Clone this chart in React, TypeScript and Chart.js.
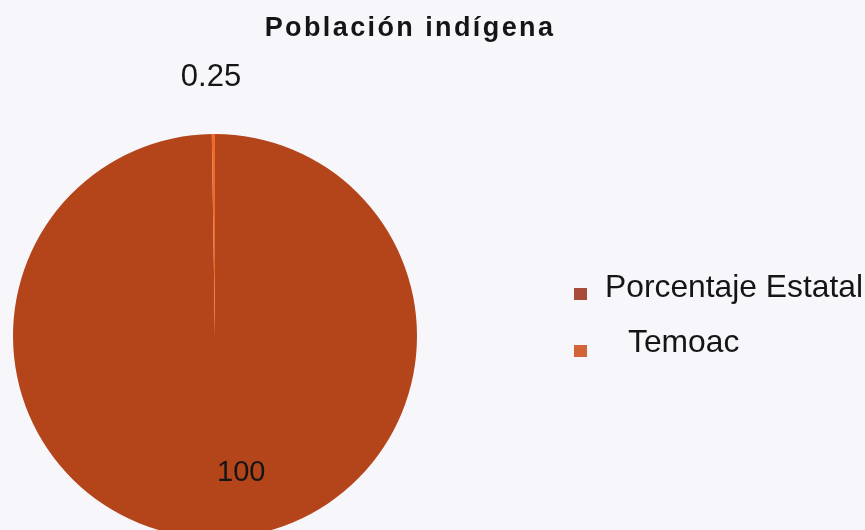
import React, { useEffect, useRef } from "react";
import { Chart, registerables } from "chart.js";

Chart.register(...registerables);

const chartTitle = "Población indígena";
const categories = ["Porcentaje Estatal", "Temoac"];
const values = [100, 0.25];
const sliceColors = ["#B4451B", "#EC6A2C"];
const legendColors = ["#A64C38", "#D2643A"];
const labelTexts = ["100", "0.25"];

const FONT = '"Liberation Sans", Arial, sans-serif';

const overlayPlugin = {
  id: "overlay",
  afterDraw(chart: any) {
    const ctx = chart.ctx as CanvasRenderingContext2D;
    const meta = chart.getDatasetMeta(0);
    ctx.save();
    ctx.fillStyle = "#151515";

    // title
    ctx.font = `bold 27px ${FONT}`;
    (ctx as any).letterSpacing = "2.4px";
    ctx.textAlign = "center";
    ctx.textBaseline = "alphabetic";
    ctx.fillText(chartTitle, 410, 36);
    (ctx as any).letterSpacing = "0px";

    // data labels
    meta.data.forEach((arc: any, i: number) => {
      const p = arc.getProps(["x", "y", "startAngle", "endAngle", "outerRadius"], true);
      const mid = (p.startAngle + p.endAngle) / 2;
      if (i === 0) {
        const r = p.outerRadius * 0.664;
        const x = p.x + Math.cos(mid) * r;
        const y = p.y + Math.sin(mid) * r;
        ctx.font = `29px ${FONT}`;
        ctx.textAlign = "left";
        ctx.fillText(labelTexts[i], x + 1, y + 11);
      } else {
        const r = p.outerRadius + 59;
        const x = p.x + Math.cos(mid) * r;
        const y = p.y + Math.sin(mid) * r;
        ctx.font = `31px ${FONT}`;
        ctx.textAlign = "center";
        ctx.fillText(labelTexts[i], x - 2, y + 11);
      }
    });

    // legend
    const legendRows = [
      { box: [574, 288], textX: 605, base: 297 },
      { box: [574, 345], textX: 628, base: 352 },
    ];
    chart.data.labels.forEach((lab: string, i: number) => {
      const row = legendRows[i];
      ctx.fillStyle = legendColors[i];
      ctx.fillRect(row.box[0], row.box[1], 13, 12);
      ctx.fillStyle = "#151515";
      ctx.font = `31.8px ${FONT}`;
      ctx.textAlign = "left";
      ctx.fillText(lab, row.textX, row.base);
    });
    ctx.restore();
  },
};

export default function App() {
  const ref = useRef<HTMLCanvasElement>(null);
  useEffect(() => {
    if (!ref.current) return;
    const chart = new Chart(ref.current, {
      type: "pie",
      data: {
        labels: categories,
        datasets: [
          {
            data: values,
            backgroundColor: sliceColors,
            borderWidth: 0,
          },
        ],
      },
      options: {
        responsive: false,
        animation: false,
        layout: { padding: { left: 13, right: 448, top: 134, bottom: 7 } },
        plugins: {
          legend: { display: false },
          title: { display: false },
          tooltip: { enabled: false },
        },
      },
      plugins: [overlayPlugin],
    });
    return () => chart.destroy();
  }, []);
  return (
    <div
      style={{
        position: "absolute",
        left: 0,
        top: 0,
        width: 865,
        height: 530,
        overflow: "hidden",
        background: "#F7F6FA",
      }}
    >
      <canvas ref={ref} width={865} height={545} style={{ display: "block" }} />
    </div>
  );
}
